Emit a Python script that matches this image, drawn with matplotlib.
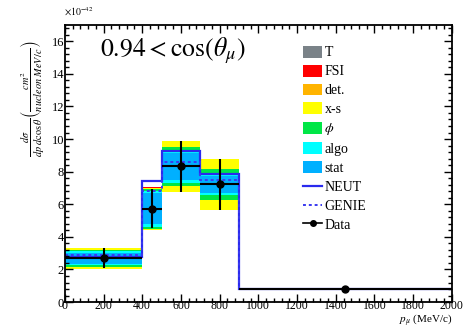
import matplotlib
matplotlib.use('Agg')
import matplotlib.pyplot as plt
from matplotlib.patches import Patch
from matplotlib.lines import Line2D
from matplotlib.ticker import MultipleLocator
import numpy as np

plt.rcParams['font.family'] = ['Liberation Serif', 'DejaVu Serif']
plt.rcParams['mathtext.fontset'] = 'stix'

# bin edges in p_mu (MeV/c)
edges = [0, 400, 500, 700, 900, 2000]
data = [2.69, 5.72, 8.32, 7.22, 0.78]
data_err = [0.62, 1.2, 1.55, 1.57, 0.05]
neut = [2.75, 7.42, 9.28, 7.88, 0.78]
genie = [2.87, 6.8, 8.62, 7.5, 0.78]

# cumulative uncertainty half-widths
stat = [0.35, 0.95, 0.85, 0.5, 0.03]
algo = [0.42, 1.1, 1.0, 0.66, 0.04]
phi = [0.52, 1.22, 1.2, 0.95, 0.05]
xsec = [0.63, 1.3, 1.57, 1.57, 0.06]
det = [0.635, 1.305, 1.575, 1.575, 0.062]
fsi = [0.64, 1.31, 1.58, 1.58, 0.064]
tot = [0.645, 1.315, 1.585, 1.585, 0.066]

band_names = ['T', 'FSI', 'det.', 'x-s', r'$\phi$', 'algo', 'stat']
band_vals = [tot, fsi, det, xsec, phi, algo, stat]
band_colors = ['#7a8288', '#ff0000', '#ffb400', '#ffff00', '#00e646', '#00ffff', '#00b0ff']

edges = np.array(edges)
lefts = edges[:-1]
widths = np.diff(edges)
centers = lefts + widths / 2
data = np.array(data)

fig = plt.figure(figsize=(4.63, 3.28), dpi=100)
ax = fig.add_axes([0.140, 0.079, 0.836, 0.845])

for vals, col in zip(band_vals, band_colors):
    vals = np.array(vals)
    ax.bar(lefts, 2 * vals, width=widths, bottom=data - vals, align='edge',
           color=col, linewidth=0)

ax.stairs(neut, edges, baseline=None, color='#2a2aee', linewidth=1.6)
ax.stairs(genie, edges, baseline=None, color='#3a3af0', linewidth=1.4,
          linestyle=(0, (1.5, 1.5)))
ax.errorbar(centers, data, yerr=data_err, xerr=widths / 2, fmt='o', color='black',
            markersize=5, elinewidth=1.5, capsize=0)

ax.set_xlim(0, 2000)
ax.set_ylim(0, 17)
ax.xaxis.set_major_locator(MultipleLocator(200))
ax.xaxis.set_minor_locator(MultipleLocator(40))
ax.yaxis.set_major_locator(MultipleLocator(2))
ax.yaxis.set_minor_locator(MultipleLocator(0.4))
ax.tick_params(which='both', direction='in', top=True, right=True, labelsize=9,
               width=1, pad=0.5)
ax.tick_params(axis='x', pad=-1.5, labelsize=8.5)
ax.tick_params(which='major', length=6)
ax.tick_params(which='minor', length=3)
for s in ax.spines.values():
    s.set_linewidth(1.3)

ax.text(0.092, 0.905, r'$0.94 < \cos(\theta_{\mu})$', transform=ax.transAxes,
        fontsize=18.5, va='center', ha='left')

fig.text(0.138, 0.945, r'$\times10^{-42}$', fontsize=7, ha='left', va='bottom')
fig.text(0.977, 0.0, r'$p_{\mu}$ (MeV/c)', fontsize=8, ha='right', va='bottom')
fig.text(0.070, 0.70, r'$\frac{d\sigma}{dp\ d\cos\theta}\left(\frac{cm^{2}}{nucleon\ MeV/c}\right)$',
         fontsize=10.5, rotation=90, ha='center', va='center')

handles = [Patch(facecolor=c, edgecolor='none') for c in band_colors]
handles += [Line2D([], [], color='#2a2aee', lw=1.6),
            Line2D([], [], color='#3a3af0', lw=1.4, linestyle=(0, (1.5, 1.5))),
            Line2D([], [], color='black', marker='o', markersize=4, lw=1.2)]
labels = band_names + ['NEUT', 'GENIE', 'Data']
ax.legend(handles, labels, loc='upper left', bbox_to_anchor=(0.615, 0.925),
          frameon=False, fontsize=10, handlelength=1.4, handleheight=0.95,
          handletextpad=0.15, labelspacing=0.37, borderpad=0, borderaxespad=0)

fig.savefig('out.png', dpi=100)
